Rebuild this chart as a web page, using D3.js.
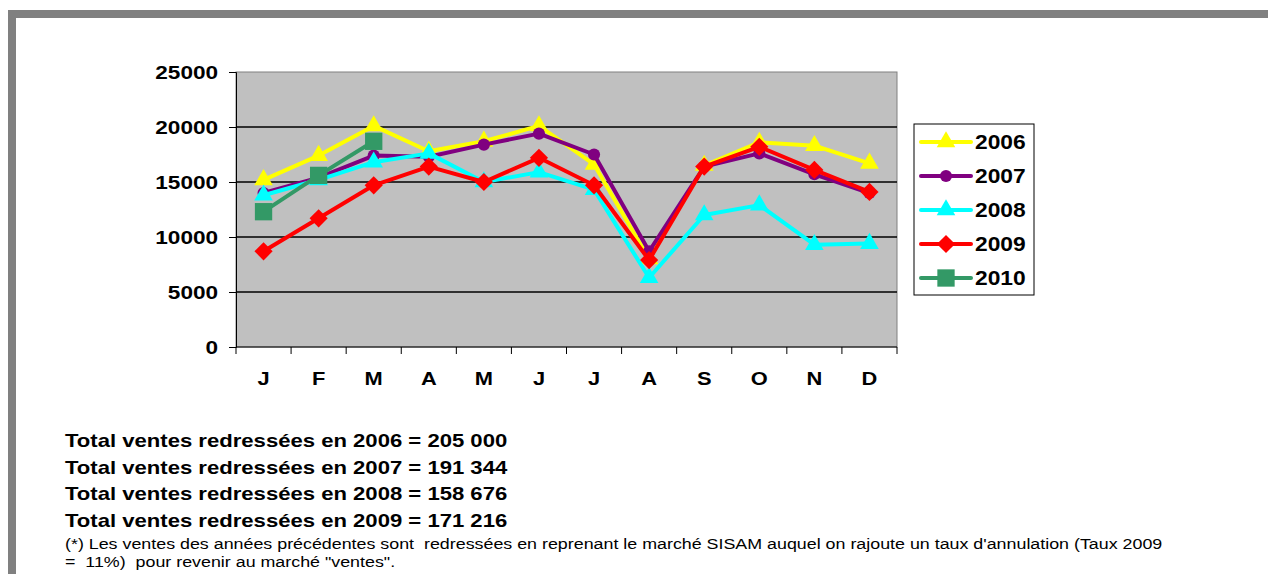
<!DOCTYPE html>
<html lang="fr">
  <head>
    <meta charset="UTF-8" />
    <title>Ventes redressées</title>
    <style>
      body {
        margin: 0;
        background: #fff;
        font-family: "Liberation Sans", Arial, sans-serif;
        overflow: hidden;
      }
      .tick text {
        font-weight: bold;
        font-size: 19px;
        fill: #000;
      }
    </style>
  </head>
  <body>
    <svg id="chart" width="1268" height="574"></svg>
    <script src="https://d3js.org/d3.v7.min.js"></script>
    <script>
      const months = ["J", "F", "M", "A", "M", "J", "J", "A", "S", "O", "N", "D"];
      const yTicks = [0, 5000, 10000, 15000, 20000, 25000];

      const v2006 = [15200, 17400, 20100, 17800, 18700, 20100, 16600, 8000, 16500, 18600, 18300, 16700];
      const v2007 = [14000, 15400, 17400, 17300, 18400, 19400, 17500, 8700, 16400, 17600, 15700, 14000];
      const v2008 = [13800, 15200, 16800, 17600, 15000, 15900, 14300, 6300, 12000, 12900, 9300, 9400];
      const v2009 = [8700, 11700, 14700, 16400, 15000, 17200, 14700, 7900, 16400, 18200, 16100, 14100];
      const v2010 = [12300, 15600, 18700];

      const totals = [
        "Total ventes redressées en 2006 = 205 000",
        "Total ventes redressées en 2007 = 191 344",
        "Total ventes redressées en 2008 = 158 676",
        "Total ventes redressées en 2009 = 171 216"
      ];
      const notes = [
        "(*) Les ventes des années précédentes sont  redressées en reprenant le marché SISAM auquel on rajoute un taux d'annulation (Taux 2009",
        "=  11%)  pour revenir au marché \"ventes\"."
      ];

      const series = [
        { name: "2006", values: v2006, color: "#ffff00", shape: d3.symbolTriangle, size: 150, rot: 0 },
        { name: "2007", values: v2007, color: "#800080", shape: d3.symbolCircle, size: 115, rot: 0 },
        { name: "2008", values: v2008, color: "#00ffff", shape: d3.symbolTriangle, size: 150, rot: 0 },
        { name: "2009", values: v2009, color: "#ff0000", shape: d3.symbolSquare, size: 165, rot: 45 },
        { name: "2010", values: v2010, color: "#339966", shape: d3.symbolSquare, size: 300, rot: 0 }
      ];

      const svg = d3.select("#chart");

      // page frame
      svg.append("rect").attr("x", 8).attr("y", 10).attr("width", 1268).attr("height", 8).attr("fill", "#808080");
      svg.append("rect").attr("x", 8).attr("y", 10).attr("width", 8).attr("height", 574).attr("fill", "#808080");

      const pLeft = 236, pRight = 897, pTop = 72, pBottom = 347;

      const x = d3.scaleBand()
        .domain(d3.range(months.length))
        .range([pLeft, pRight]);

      const y = d3.scaleLinear()
        .domain([0, 25000])
        .range([pBottom, pTop]);

      svg.append("rect")
        .attr("x", pLeft).attr("y", pTop)
        .attr("width", pRight - pLeft).attr("height", pBottom - pTop)
        .attr("fill", "#c0c0c0")
        .attr("stroke", "#808080");

      svg.append("g")
        .selectAll("line")
        .data(yTicks.filter(d => d > 0 && d < 25000))
        .join("line")
        .attr("x1", pLeft).attr("x2", pRight)
        .attr("y1", d => y(d)).attr("y2", d => y(d))
        .attr("stroke", "#000")
        .attr("stroke-width", 1.3);

      const yAxis = svg.append("g")
        .attr("transform", `translate(${pLeft},0)`)
        .call(d3.axisLeft(y).tickValues(yTicks).tickSize(7).tickPadding(8).tickFormat(d3.format("d")));
      yAxis.select(".domain").attr("stroke", "#000");
      yAxis.selectAll(".tick text").attr("transform", "scale(1.19,1)");

      const xAxis = svg.append("g")
        .attr("transform", `translate(0,${pBottom})`)
        .call(d3.axisBottom(x).tickSize(0).tickPadding(21).tickFormat(i => months[i]));
      xAxis.select(".domain").remove();
      xAxis.selectAll(".tick text").attr("dy", "0.9em").attr("transform", "scale(1.15,1)");

      // tick marks between categories
      svg.append("g")
        .selectAll("line")
        .data(d3.range(months.length + 1))
        .join("line")
        .attr("x1", i => pLeft + i * x.step()).attr("x2", i => pLeft + i * x.step())
        .attr("y1", pBottom).attr("y2", pBottom + 7)
        .attr("stroke", "#000");
      svg.append("line")
        .attr("x1", pLeft).attr("x2", pRight)
        .attr("y1", pBottom).attr("y2", pBottom)
        .attr("stroke", "#000");

      const line = d3.line()
        .x((d, i) => x(i) + x.bandwidth() / 2)
        .y(d => y(d));

      series.forEach(s => {
        const g = svg.append("g");
        g.append("path")
          .attr("d", line(s.values))
          .attr("fill", "none")
          .attr("stroke", s.color)
          .attr("stroke-width", 4)
          .attr("stroke-linejoin", "round");
        g.selectAll("path.pt")
          .data(s.values)
          .join("path")
          .attr("class", "pt")
          .attr("d", d3.symbol().type(s.shape).size(s.size))
          .attr("transform", (d, i) => `translate(${x(i) + x.bandwidth() / 2},${y(d)}) rotate(${s.rot})`)
          .attr("fill", s.color);
      });

      // legend
      const lg = svg.append("g").attr("transform", "translate(914,124)");
      lg.append("rect")
        .attr("width", 120).attr("height", 171)
        .attr("fill", "#fff")
        .attr("stroke", "#000");
      series.forEach((s, i) => {
        const cy = 18 + i * 34;
        lg.append("line")
          .attr("x1", 7).attr("x2", 57)
          .attr("y1", cy).attr("y2", cy)
          .attr("stroke", s.color)
          .attr("stroke-width", 4)
          .attr("stroke-linecap", "round");
        lg.append("path")
          .attr("d", d3.symbol().type(s.shape).size(s.size))
          .attr("transform", `translate(32,${cy}) rotate(${s.rot})`)
          .attr("fill", s.color);
        lg.append("text")
          .attr("transform", `translate(61,${cy + 7}) scale(1.14,1)`)
          .attr("font-size", 20)
          .attr("font-weight", "bold")
          .text(s.name);
      });

      svg.append("g")
        .attr("transform", "translate(65,0) scale(1.228,1)")
        .selectAll("text")
        .data(totals)
        .join("text")
        .attr("y", (d, i) => 447 + i * 26.7)
        .attr("font-size", 18)
        .attr("font-weight", "bold")
        .text(d => d);

      svg.append("g")
        .attr("transform", "translate(65,0) scale(1.275,1)")
        .selectAll("text")
        .data(notes)
        .join("text")
        .attr("y", (d, i) => 549 + i * 18)
        .attr("font-size", 14)
        .style("white-space", "pre")
        .text(d => d);
    </script>
  </body>
</html>
